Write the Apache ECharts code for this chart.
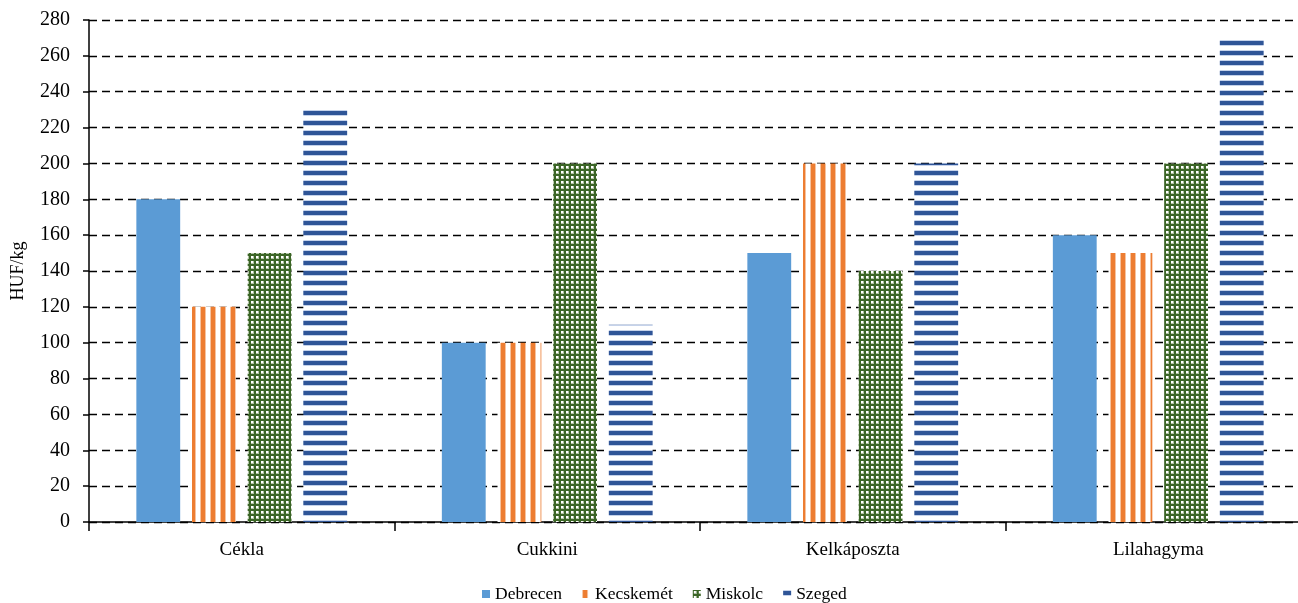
<!DOCTYPE html>
<html>
<head>
<meta charset="utf-8">
<style>
html, body { margin: 0; padding: 0; background: #fff; }
#main { width: 1298px; height: 603px; }
</style>
<script src="https://cdn.jsdelivr.net/npm/echarts@6/dist/echarts.min.js"></script>
</head>
<body>
<div id="main"></div>
<script>
var categories = ['Cékla', 'Cukkini', 'Kelkáposzta', 'Lilahagyma'];
var debrecen = [180, 100, 150, 160];
var kecskemet = [120, 100, 200, 150];
var miskolc = [150, 200, 140, 200];
var szeged = [230, 110, 200, 270];

// pattern fills like the original office chart
function stripesV() {
    var c = document.createElement('canvas');
    c.width = 10; c.height = 4;
    var ctx = c.getContext('2d');
    ctx.fillStyle = '#ffffff';
    ctx.fillRect(0, 0, 10, 4);
    ctx.fillStyle = '#f6c3a0';
    ctx.fillRect(0, 0, 6, 4);
    ctx.fillStyle = '#ed7d31';
    ctx.fillRect(1, 0, 4, 4);
    return { image: c, repeat: 'repeat' };
}
function stripesH() {
    var c = document.createElement('canvas');
    c.width = 4; c.height = 10;
    var ctx = c.getContext('2d');
    ctx.fillStyle = '#ffffff';
    ctx.fillRect(0, 0, 4, 10);
    ctx.fillStyle = '#c5d2ea';
    ctx.fillRect(0, 0, 4, 6);
    ctx.fillStyle = '#2f5597';
    ctx.fillRect(0, 1, 4, 4);
    return { image: c, repeat: 'repeat' };
}
function checker() {
    var c = document.createElement('canvas');
    c.width = 5; c.height = 5;
    var ctx = c.getContext('2d');
    ctx.fillStyle = '#3b6526';
    ctx.fillRect(0, 0, 5, 5);
    ctx.fillStyle = '#b3c4a8';
    ctx.fillRect(1, 1, 3, 3);
    ctx.fillStyle = '#ffffff';
    ctx.fillRect(1, 1, 2, 2);
    return { image: c, repeat: 'repeat' };
}

var font = 'Liberation Serif';
var myChart = echarts.init(document.getElementById('main'), null, { renderer: 'canvas' });

var option = {
    animation: false,
    textStyle: { fontFamily: font },
    legend: {
        top: 580,
        left: 477,
        icon: 'rect',
        itemWidth: 8,
        itemHeight: 8,
        itemGap: 20,
        textStyle: { fontFamily: font, fontSize: 17.5, color: '#000' },
        data: ['Debrecen', 'Kecskemét', 'Miskolc', 'Szeged']
    },
    grid: {
        left: 89,
        top: 20,
        width: 1222,
        bottom: 81,
        outerBoundsMode: 'none'
    },
    xAxis: {
        type: 'category',
        data: categories,
        axisLine: { lineStyle: { color: '#000', width: 1.5 } },
        axisTick: { show: true, length: 9, lineStyle: { color: '#000', width: 1.5 } },
        axisLabel: { fontFamily: font, fontSize: 19, color: '#000', margin: 19 }
    },
    yAxis: {
        type: 'value',
        min: 0,
        max: 280,
        interval: 20,
        name: 'HUF/kg',
        nameLocation: 'middle',
        nameGap: 62,
        nameTextStyle: { fontFamily: font, fontSize: 18, color: '#000' },
        axisLine: { show: true, lineStyle: { color: '#000', width: 1.5 } },
        axisTick: { show: true, length: 6, lineStyle: { color: '#000', width: 1.5 } },
        axisLabel: { fontFamily: font, fontSize: 20, color: '#000', margin: 19 },
        splitLine: { lineStyle: { color: '#000', type: [8, 5], width: 1.4 } }
    },
    series: [
        {
            name: 'Debrecen', type: 'bar', data: debrecen,
            barCategoryGap: '31%', barGap: '27%',
            itemStyle: { color: '#5b9bd5' }
        },
        {
            name: 'Kecskemét', type: 'bar', data: kecskemet,
            barCategoryGap: '31%', barGap: '27%',
            itemStyle: { color: stripesV() }
        },
        {
            name: 'Miskolc', type: 'bar', data: miskolc,
            barCategoryGap: '31%', barGap: '27%',
            itemStyle: { color: checker() }
        },
        {
            name: 'Szeged', type: 'bar', data: szeged,
            barCategoryGap: '31%', barGap: '27%',
            itemStyle: { color: stripesH() }
        }
    ]
};

if (option && typeof option === 'object') {
    myChart.setOption(option);
}
window.addEventListener('resize', myChart.resize);
</script>
</body>
</html>
